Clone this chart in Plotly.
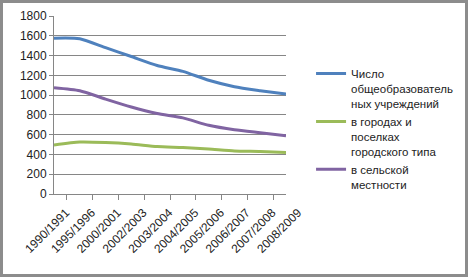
import plotly.graph_objects as go

categories = ["1990/1991", "1995/1996", "2000/2001", "2002/2003", "2003/2004",
              "2004/2005", "2005/2006", "2006/2007", "2007/2008", "2008/2009"]
total = [1575, 1570, 1480, 1390, 1300, 1240, 1150, 1085, 1045, 1010]
urban = [495, 525, 520, 505, 480, 470, 455, 435, 430, 420]
rural = [1075, 1045, 960, 880, 815, 770, 695, 650, 620, 590]
names = ["Число<br>общеобразователь<br>ных учреждений",
         "в городах и<br>поселках<br>городского типа",
         "в сельской<br>местности"]
colors = ["#4F81BD", "#9BBB59", "#8064A2"]

W, H = 468, 277
ml, mr, mt, mb = 54, 182, 16, 83
pw, ph = W - ml - mr, H - mt - mb

fig = go.Figure()
for vals, nm, c in zip([total, urban, rural], names, colors):
    fig.add_trace(go.Scatter(x=categories, y=vals, name=nm, mode="lines",
                             line=dict(color=c, width=3, shape="spline", smoothing=0.6)))

fig.update_layout(
    width=W, height=H,
    margin=dict(l=ml, r=mr, t=mt, b=mb, autoexpand=False),
    paper_bgcolor="white", plot_bgcolor="white",
    font=dict(family="Liberation Sans, Arial", size=12, color="#222"),
    showlegend=True,
    legend=dict(x=1.108, y=0.755, xanchor="left", yanchor="top", valign="top",
                font=dict(size=11.5, color="#222"), tracegroupgap=2,
                bgcolor="rgba(0,0,0,0)"),
    xaxis=dict(type="category", tickangle=-45, showgrid=False, automargin=False,
               showline=True, linecolor="#868686", linewidth=1,
               ticks="outside", tickson="boundaries", ticklen=5, tickcolor="#868686",
               ticklabelshift=12, ticklabelstandoff=6,
               tickfont=dict(size=12)),
    yaxis=dict(range=[0, 1800], dtick=200, showgrid=True, gridcolor="#868686",
               gridwidth=1, showline=True, linecolor="#868686", linewidth=1, automargin=False,
               ticks="outside", ticklen=4, tickcolor="#868686", zeroline=False,
               tickfont=dict(size=12)),
    shapes=[dict(type="rect", xref="paper", yref="paper",
                 x0=-(ml - 1.5) / pw, x1=1 + (mr - 1.5) / pw,
                 y0=-(mb - 1.5) / ph, y1=1 + (mt - 1.5) / ph,
                 line=dict(color="#8c8c8c", width=3))],
)

fig.write_html("out.html", config={"displayModeBar": False},
               post_script="document.body.style.margin='0';document.body.style.padding='0';")
